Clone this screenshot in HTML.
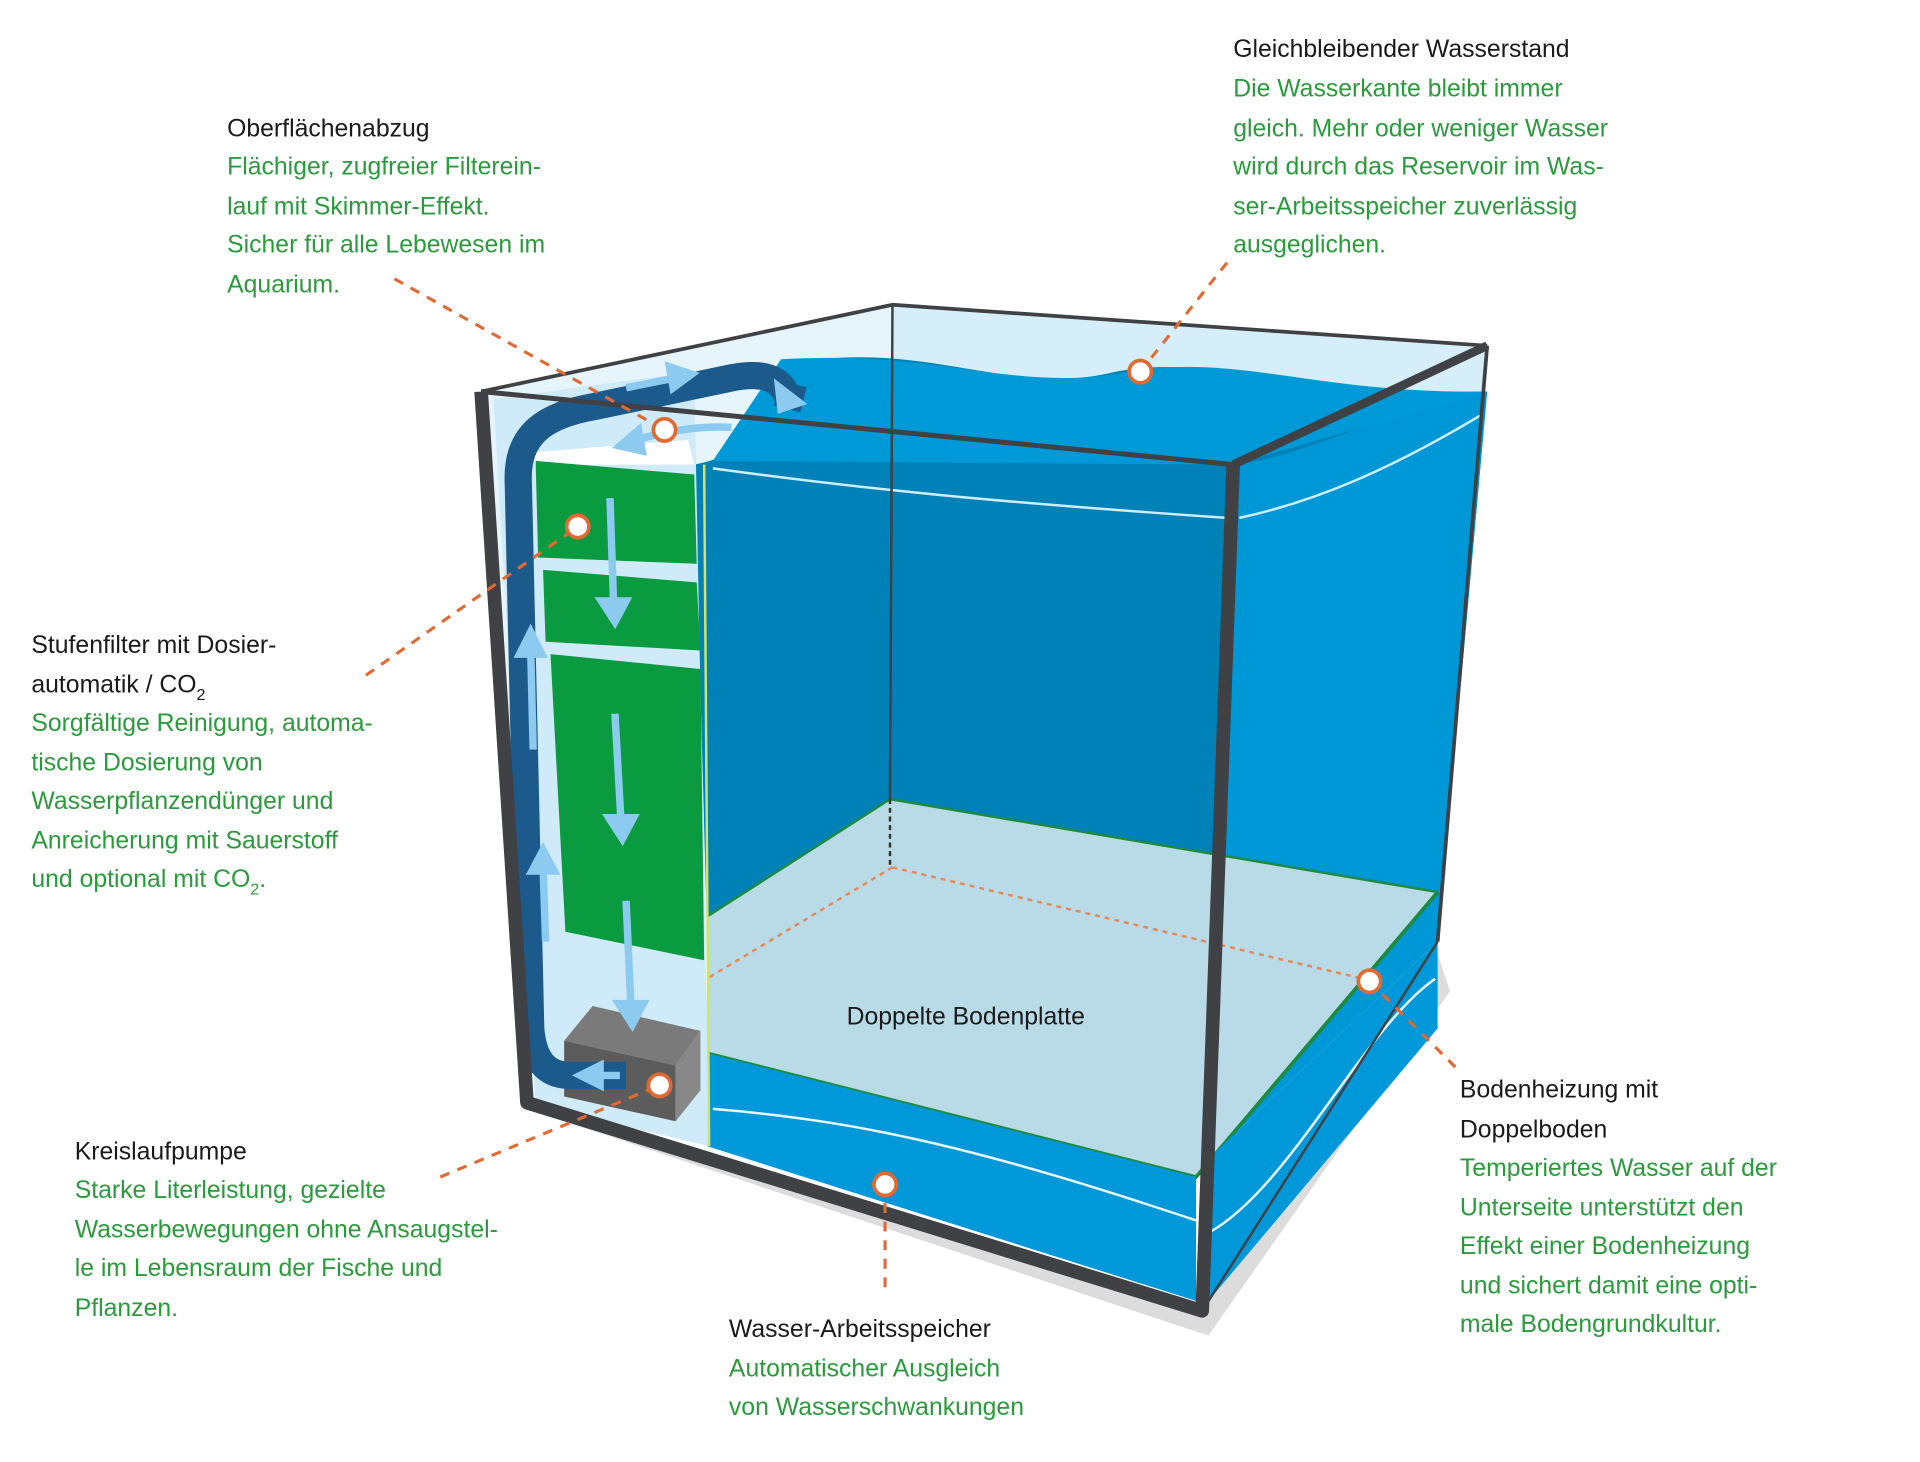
<!DOCTYPE html>
<html><head><meta charset="utf-8"><style>
html,body{margin:0;padding:0;background:#fff;}
svg{display:block}
text{font-family:"Liberation Sans",sans-serif;font-size:20px}
.h{fill:#1a1a1a}.g{fill:#2b9a3c}
</style></head><body>
<svg width="1920" height="1462" viewBox="0 0 1549 1180" xmlns="http://www.w3.org/2000/svg">
<polygon points="425,895 975,1078 1170,800 1160,770 970,1058" fill="#dcdcdc"/>
<polygon points="720,246 1200,279 1160,760 718,645" fill="#d6eef9"/>
<polygon points="388,316 720,246 718,645 425,890" fill="#e6f4fb"/>
<path d="M560,375 C640,360 600,300 660,290 C760,280 820,320 900,300 C980,285 1050,320 1200,316 L1160,760 L718,645 L570,740 Z" fill="#0081b8"/>
<path d="M995,375 C1050,370 1120,330 1200,316 L1160,760 L975,935 Z" fill="#0097d6"/>
<path d="M1000,418 C1060,405 1120,380 1195,335" stroke="#cfeefc" stroke-width="2" fill="none"/>
<path d="M575,378 C700,395 800,405 990,418" stroke="#cfeefc" stroke-width="2" fill="none"/>
<path d="M630,290 C760,282 820,318 910,300 C1000,285 1060,318 1200,316 L995,375 L575,372 Z" fill="#0099d8"/>
<polygon points="570,740 718,645 1160,720 965,950 570,850" fill="#b9dbe7"/>
<polyline points="570,850 965,950 1160,720" fill="none" stroke="#1e8a40" stroke-width="3"/>
<polyline points="570,740 718,645 1160,720" fill="none" stroke="#1e8a40" stroke-width="2"/>
<polygon points="570,850 965,950 965,1050 570,925" fill="#0098d8"/>
<polygon points="975,935 1160,760 1160,830 975,1050" fill="#0098d8"/>
<path d="M575,895 C700,905 800,930 965,985" stroke="#e8f8ff" stroke-width="2" fill="none"/>
<path d="M975,995 C1040,960 1100,830 1158,790" stroke="#e8f8ff" stroke-width="2" fill="none"/>
<line x1="718" y1="645" x2="718" y2="700" stroke="#333" stroke-width="2" stroke-dasharray="4,3"/>
<line x1="720" y1="700" x2="1100" y2="790" stroke="#e38a5a" stroke-width="2" stroke-dasharray="4,4"/>
<line x1="720" y1="700" x2="570" y2="790" stroke="#e38a5a" stroke-width="2" stroke-dasharray="4,4"/>
<polygon points="398,322 560,300 572,925 432,892" fill="#cfeaf8"/>
<polygon points="430,365 555,355 560,375 432,375" fill="#fff"/>
<polygon points="432,372 560,383 562,455 434,450" fill="#0a9a40"/>
<polygon points="438,460 562,470 565,525 440,518" fill="#0a9a40"/>
<polygon points="444,528 565,540 568,775 456,752" fill="#0a9a40"/>
<line x1="568" y1="375" x2="572" y2="925" stroke="#cde56a" stroke-width="2"/>
<polygon points="455,840 478,812 565,832 545,860" fill="#7a7a7a"/>
<polygon points="455,840 545,860 545,905 455,885" fill="#5c5c5c"/>
<polygon points="545,860 565,832 565,880 545,905" fill="#888"/>
<path d="M505,868 L460,868 C440,868 430,855 428,830 L418,390 C416,350 440,335 480,328 L590,305 C615,300 630,305 635,320" stroke="#1d5a8c" stroke-width="22" fill="none"/>
<path d="M640,310 L635,330" stroke="#1d5a8c" stroke-width="22"/>
<g stroke="#8ccaf0" stroke-width="6" fill="#8ccaf0">
<line x1="492" y1="402" x2="495" y2="490"/><polygon points="485,485 505,485 496,502"/>
<line x1="496" y1="576" x2="501" y2="665"/><polygon points="491,660 511,660 502,677"/>
<line x1="505" y1="727" x2="509" y2="815"/><polygon points="499,810 519,810 510,827"/>
<line x1="430" y1="605" x2="428" y2="525"/><polygon points="419,528 437,528 428,510"/>
<line x1="440" y1="760" x2="438" y2="700"/><polygon points="429,703 447,703 438,686"/>
<line x1="505" y1="313" x2="545" y2="305"/><polygon points="540,296 558,302 543,313"/>
<line x1="500" y1="868" x2="480" y2="868"/><polygon points="484,860 484,876 468,868"/>
<path d="M590,345 C560,343 530,350 510,356" fill="none"/><polygon points="515,347 500,360 518,364"/>
<polygon points="628,312 645,325 630,330"/>
</g>
<g stroke="#3f4144" fill="none" stroke-linejoin="round">
<polyline points="388,316 720,246 1200,279" stroke-width="3"/>
<line x1="720" y1="246" x2="718" y2="645" stroke-width="2"/>
<line x1="1200" y1="279" x2="1160" y2="760" stroke-width="3"/>
<polyline points="995,375 1200,279" stroke-width="7"/>
<polyline points="388,316 425,890 970,1058 995,375" stroke-width="11"/>
<polyline points="388,316 995,375" stroke-width="4"/>
<line x1="970" y1="1058" x2="1160" y2="760" stroke-width="2"/>
</g>
<g stroke="#e06a32" stroke-width="2.5" stroke-dasharray="8,7" fill="none">
<line x1="318" y1="225" x2="536" y2="347"/>
<line x1="990" y1="212" x2="920" y2="300"/>
<line x1="295" y1="545" x2="466" y2="425"/>
<line x1="355" y1="950" x2="532" y2="876"/>
<line x1="714" y1="956" x2="714" y2="1045"/>
<line x1="1105" y1="792" x2="1175" y2="862"/>
</g>
<g fill="#fff" stroke="#e06a32" stroke-width="3">
<circle cx="536" cy="347" r="9"/><circle cx="920" cy="300" r="9"/><circle cx="466" cy="425" r="9"/>
<circle cx="532" cy="876" r="9"/><circle cx="714" cy="956" r="9"/><circle cx="1105" cy="792" r="9"/>
</g>
<text x="683" y="827" class="h" font-size="21">Doppelte Bodenplatte</text>
<text x="183" y="110" class="h">Oberflächenabzug</text>
<text x="183" y="141" class="g">Flächiger, zugfreier Filterein-</text>
<text x="183" y="173" class="g">lauf mit Skimmer-Effekt.</text>
<text x="183" y="204" class="g">Sicher für alle Lebewesen im</text>
<text x="183" y="236" class="g">Aquarium.</text>
<text x="995" y="46" class="h">Gleichbleibender Wasserstand</text>
<text x="995" y="78" class="g">Die Wasserkante bleibt immer</text>
<text x="995" y="110" class="g">gleich. Mehr oder weniger Wasser</text>
<text x="995" y="141" class="g">wird  durch das Reservoir im Was-</text>
<text x="995" y="173" class="g">ser-Arbeitsspeicher zuverlässig</text>
<text x="995" y="204" class="g">ausgeglichen.</text>
<text x="25" y="527" class="h">Stufenfilter mit Dosier-</text>
<text x="25" y="559" class="h">automatik / CO<tspan font-size="13" dy="6">2</tspan></text>
<text x="25" y="590" class="g">Sorgfältige Reinigung, automa-</text>
<text x="25" y="622" class="g">tische Dosierung von</text>
<text x="25" y="653" class="g">Wasserpflanzendünger und</text>
<text x="25" y="685" class="g">Anreicherung mit Sauerstoff</text>
<text x="25" y="716" class="g">und optional mit CO<tspan font-size="13" dy="6">2</tspan><tspan dy="-6">.</tspan></text>
<text x="60" y="936" class="h">Kreislaufpumpe</text>
<text x="60" y="967" class="g">Starke Literleistung, gezielte</text>
<text x="60" y="999" class="g">Wasserbewegungen ohne Ansaugstel-</text>
<text x="60" y="1030" class="g">le im Lebensraum der Fische und</text>
<text x="60" y="1062" class="g">Pflanzen.</text>
<text x="588" y="1079" class="h">Wasser-Arbeitsspeicher</text>
<text x="588" y="1111" class="g">Automatischer Ausgleich</text>
<text x="588" y="1142" class="g">von Wasserschwankungen</text>
<text x="1178" y="886" class="h">Bodenheizung mit</text>
<text x="1178" y="918" class="h">Doppelboden</text>
<text x="1178" y="949" class="g">Temperiertes Wasser auf der</text>
<text x="1178" y="981" class="g">Unterseite unterstützt den</text>
<text x="1178" y="1012" class="g">Effekt einer Bodenheizung</text>
<text x="1178" y="1044" class="g">und sichert damit eine opti-</text>
<text x="1178" y="1075" class="g">male Bodengrundkultur.</text>
</svg>
</body></html>
